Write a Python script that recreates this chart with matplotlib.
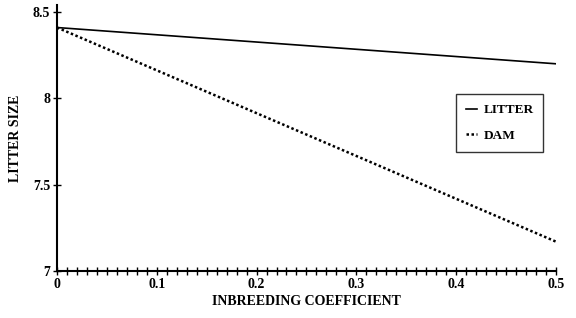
import matplotlib
matplotlib.use("Agg")
import matplotlib.pyplot as plt
import numpy as np
from matplotlib.ticker import MultipleLocator

x = [0.0, 0.5]
litter = [8.41, 8.20]
dam = [8.41, 7.17]
xticks = [0, 0.1, 0.2, 0.3, 0.4, 0.5]
xticklabels = ["0", "0.1", "0.2", "0.3", "0.4", "0.5"]
yticks = [7, 7.5, 8, 8.5]
yticklabels = ["7", "7.5", "8", "8.5"]

plt.rcParams['font.family'] = ['Liberation Serif', 'DejaVu Serif']
plt.rcParams['font.weight'] = 'bold'

fig = plt.figure(figsize=(5.76, 3.18), dpi=100)
ax = fig.add_axes([0.099, 0.148, 0.866, 0.836])

ax.plot(x, litter, color='black', lw=1.2, label='LITTER')
ax.plot(x, dam, color='black', lw=1.8, linestyle=(0, (1, 1)), label='DAM')

ax.set_xlim(0, 0.5)
ax.set_ylim(7, 8.54)
ax.spines['top'].set_visible(False)
ax.spines['right'].set_visible(False)
ax.spines['left'].set_linewidth(1.5)
ax.spines['bottom'].set_linewidth(1.5)

ax.set_xticks(xticks)
ax.set_xticklabels(xticklabels, fontsize=10, fontweight='bold')
ax.set_yticks(yticks)
ax.set_yticklabels(yticklabels, fontsize=10, fontweight='bold')
ax.xaxis.set_minor_locator(MultipleLocator(0.01))
ax.tick_params(axis='x', which='both', direction='inout', length=6, width=1, pad=2)
ax.tick_params(axis='y', which='major', direction='inout', length=6, width=1, pad=2)

ax.set_xlabel('INBREEDING COEFFICIENT', fontsize=10, fontweight='bold', labelpad=3)
ax.set_ylabel('LITTER SIZE', fontsize=10, fontweight='bold', labelpad=8)

leg = ax.legend(loc='upper left', bbox_to_anchor=(0.792, 0.704),
                bbox_transform=fig.transFigure, frameon=True,
                fancybox=False, edgecolor='black', handlelength=0.8,
                handletextpad=0.5, borderpad=0.75, labelspacing=1.0,
                borderaxespad=0, prop={'weight': 'bold', 'size': 9.5})
leg.get_frame().set_linewidth(1.0)

fig.savefig('out.png', dpi=100)
